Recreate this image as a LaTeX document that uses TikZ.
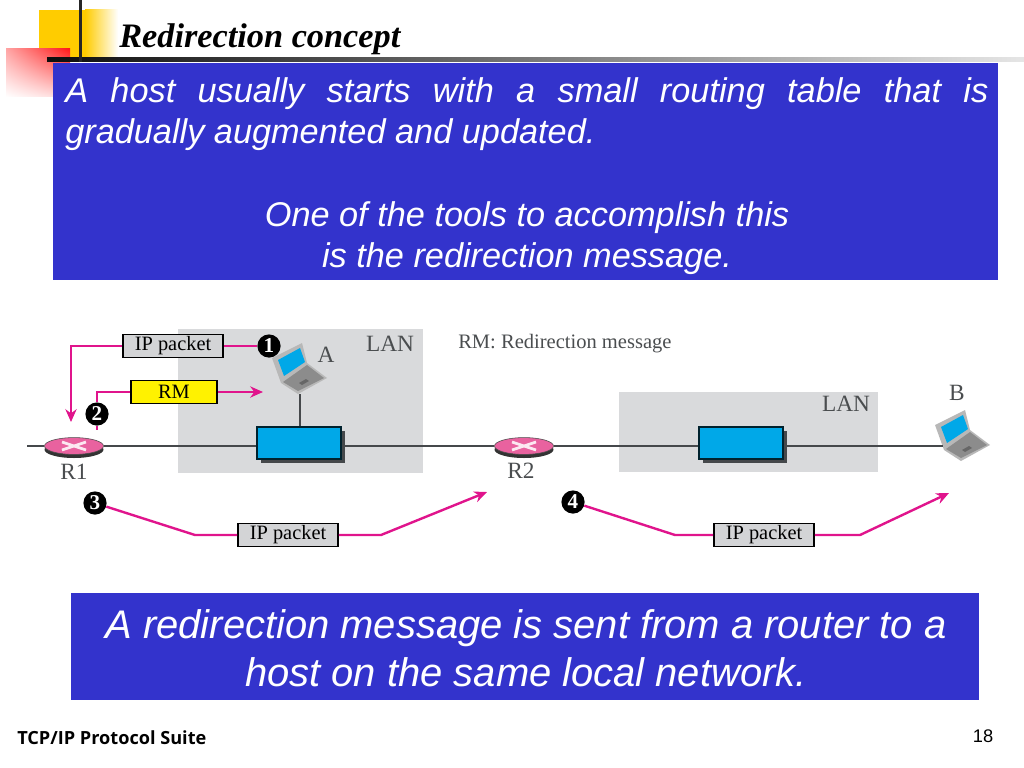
\documentclass[tikz,border=0pt]{standalone}
\usepackage{fontspec}
\setmainfont{Liberation Sans}
\newfontfamily\serifface{Liberation Serif}
\newfontfamily\footface{Open Sans}
\definecolor{slideblue}{HTML}{3333CC}
\definecolor{slideyellow}{HTML}{FFCC00}
\definecolor{pktpink}{HTML}{E0148C}
\definecolor{langrey}{HTML}{D9DADC}
\definecolor{pktgrey}{HTML}{D3D4D6}
\definecolor{rmyellow}{HTML}{FFF200}
\definecolor{hubblue}{HTML}{00A8E8}
\definecolor{wiredark}{HTML}{45484B}
\definecolor{routerpink}{HTML}{E9629F}
\definecolor{labelgrey}{HTML}{4A4D4F}
\usetikzlibrary{arrows.meta,positioning,shapes.geometric,shadows,shadings}

\begin{document}
\begin{tikzpicture}[x=0.25mm,y=-0.25mm,
  bluebox/.style={draw=none,fill=slideblue,inner sep=0pt},
  slidetxt/.style={text=white,font=\itshape\fontsize{24.4}{29.2}\selectfont,inner sep=0pt},
  lanbox/.style={fill=langrey,draw=none,inner sep=0pt},
  hubbox/.style={draw=black!80!hubblue,line width=0.3mm,fill=hubblue,minimum width=21mm,minimum height=8mm,inner sep=0pt,
    drop shadow={shadow xshift=1mm,shadow yshift=-1mm,fill=wiredark,opacity=1}},
  router/.style={ellipse,draw=black!70,fill=routerpink,minimum width=14.75mm,minimum height=4.2mm,inner sep=0pt,
    drop shadow={shadow xshift=0mm,shadow yshift=-0.9mm,fill=black!80,opacity=1}},
  pkt/.style={draw=black,line width=0.4mm,fill=pktgrey,minimum width=25mm,minimum height=5.8mm,inner sep=0pt,
    font=\serifface\fontsize{14.5}{14.5}\selectfont},
  rmbox/.style={pkt,fill=rmyellow,minimum width=21.5mm},
  badge/.style={circle,fill=black,text=white,minimum size=5.8mm,inner sep=0pt,font=\serifface\bfseries\fontsize{15}{15}\selectfont},
  lbl/.style={font=\serifface\fontsize{16.6}{16.6}\selectfont,text=labelgrey,inner sep=0pt},
  wire/.style={line width=0.7mm,wiredark},
  flow/.style={line width=0.6mm,pktpink},
  flowarr/.style={flow,-{Stealth[length=3.2mm,width=2.8mm]}},
  cross/.style={white!85!routerpink,line width=0.7mm},
  laptop/.pic={
    \fill[black!28] (-28,-12) -- (2,-27) -- (7,-7) -- (27,8) -- (-2,24) -- (-19,13) -- cycle;
    \fill[black!45] (-17,12) -- (7,-5) -- (24,8) -- (-2,21) -- cycle;
    \fill[black!60] (-1,13) -- (6,9) -- (9,11) -- (2,15) -- cycle;
    \fill[hubblue] (-22,-10) -- (0,-22) -- (5,-8) -- (-16,6) -- cycle;
    \coordinate (-foot) at (0,24);
    \coordinate (-port) at (-20,9);
  }]
  \useasboundingbox (0,0) rectangle (1024,767);
  % slide decoration
  \fill[slideyellow] (39,10) rectangle (85,62);
  \shade[left color=slideyellow,right color=white] (85,10) rectangle (118,62);
  \shade[upper right=red!90!white,upper left=red!35!white,lower right=red!15!white,lower left=white] (6,49) rectangle (70,97);
  \shade[left color=black!95,right color=black!10] (47,58) rectangle (1024,62);
  \fill[black!85] (78.5,0) rectangle (81.5,62);
  \node[font=\serifface\bfseries\itshape\fontsize{24.4}{24.4}\selectfont,anchor=west,inner sep=0pt] (title) at (119,39) {Redirection concept};
  % text boxes
  \node[bluebox,minimum width=236.25mm,minimum height=54.25mm,anchor=north west] (topbox) at (53,63) {};
  \node[slidetxt,anchor=north west,text width=230.75mm,align=justify] (hosttxt) at (65,77)
    {A host usually starts with a small routing table that is\linebreak gradually augmented and updated.};
  \node[slidetxt,align=center] (tooltxt) at (527,238) {One of the tools to accomplish this\\is the redirection message.};
  \node[bluebox,minimum width=227mm,minimum height=26.75mm,anchor=north west] (botbox) at (71,593) {};
  \node[slidetxt,align=center,font=\itshape\fontsize{28.4}{34}\selectfont] (redirtxt) at (526,648)
    {A redirection message is sent from a router to a\\host on the same local network.};
  % LANs
  \node[lanbox,minimum width=61.25mm,minimum height=36mm,anchor=north west] (lana) at (178,329) {};
  \node[lanbox,minimum width=64.75mm,minimum height=20mm,anchor=north west] (lanb) at (619,392) {};
  \node[lbl] (lanatxt) at (390,344) {LAN};
  \node[lbl] (lanbtxt) at (846,404) {LAN};
  \node[lbl,font=\serifface\fontsize{14.6}{14.6}\selectfont,anchor=west] (rmnote) at (458,344) {RM: Redirection message};
  % devices
  \node[hubbox] (huba) at (299,443) {};
  \node[hubbox] (hubb) at (741,443) {};
  \node[router] (rone) at (74,446) {};
  \node[router] (rtwo) at (524,446) {};
  \draw[cross] (62,442) -- (86,450) (62,450) -- (86,442);
  \draw[cross] (512,442) -- (536,450) (512,450) -- (536,442);
  \node[lbl] (ronetxt) at (74,472) {R1};
  \node[lbl] (rtwotxt) at (521,471) {R2};
  \pic (lapa) at (300,370) {laptop};
  \pic (lapb) at (963,437) {laptop};
  \node[lbl] (atxt) at (326,355) {A};
  \node[lbl] (btxt) at (957,393) {B};
  \coordinate (wireend) at (27,446);
  \draw[wire] (wireend) -- (rone);
  \draw[wire] (rone) -- (rone -| huba.west);
  \draw[wire] (rone -| huba.east) -- (rtwo);
  \draw[wire] (rtwo) -- (rtwo -| hubb.west);
  \draw[wire] (rtwo -| hubb.east) -- (lapb-port);
  \draw[wire] (lapa-foot) -- (huba.north -| lapa-foot);
  % step 1
  \node[pkt] (pkta) at (173,346) {IP packet};
  \node[badge] (one) at (269,346) {1};
  \coordinate (aend) at (71,422);
  \draw[flow] (one) -- (pkta);
  \draw[flowarr] (pkta) -| (aend);
  % step 2
  \node[rmbox] (rm) at (174,392) {RM};
  \node[badge] (two) at (97,414) {2};
  \coordinate (tail) at (97,430);
  \coordinate (rmend) at (263,392);
  \draw[flow] (two) -- (tail);
  \draw[flow] (two) |- (rm);
  \draw[flowarr] (rm) -- (rmend);
  % step 3
  \node[pkt] (pktb) at (288,535) {IP packet};
  \node[badge] (three) at (95,503) {3};
  \coordinate (threel) at (195,535);
  \coordinate (threer) at (381,535);
  \coordinate (threeend) at (487,492);
  \draw[flow] (three) -- (threel) -- (pktb);
  \draw[flowarr] (pktb) -- (threer) -- (threeend);
  % step 4
  \node[pkt] (pktc) at (764,535) {IP packet};
  \node[badge] (four) at (573,502) {4};
  \coordinate (fourl) at (675,535);
  \coordinate (fourr) at (860,535);
  \coordinate (fourend) at (949,493);
  \draw[flow] (four) -- (fourl) -- (pktc);
  \draw[flowarr] (pktc) -- (fourr) -- (fourend);
  % footer
  \node[font=\footface\bfseries\fontsize{12.9}{12.9}\selectfont,anchor=west,inner sep=0pt] (suite) at (17,738) {TCP/IP Protocol Suite};
  \node[font=\fontsize{13}{13}\selectfont,inner sep=0pt] (pageno) at (983,736) {18};
\end{tikzpicture}
\end{document}
